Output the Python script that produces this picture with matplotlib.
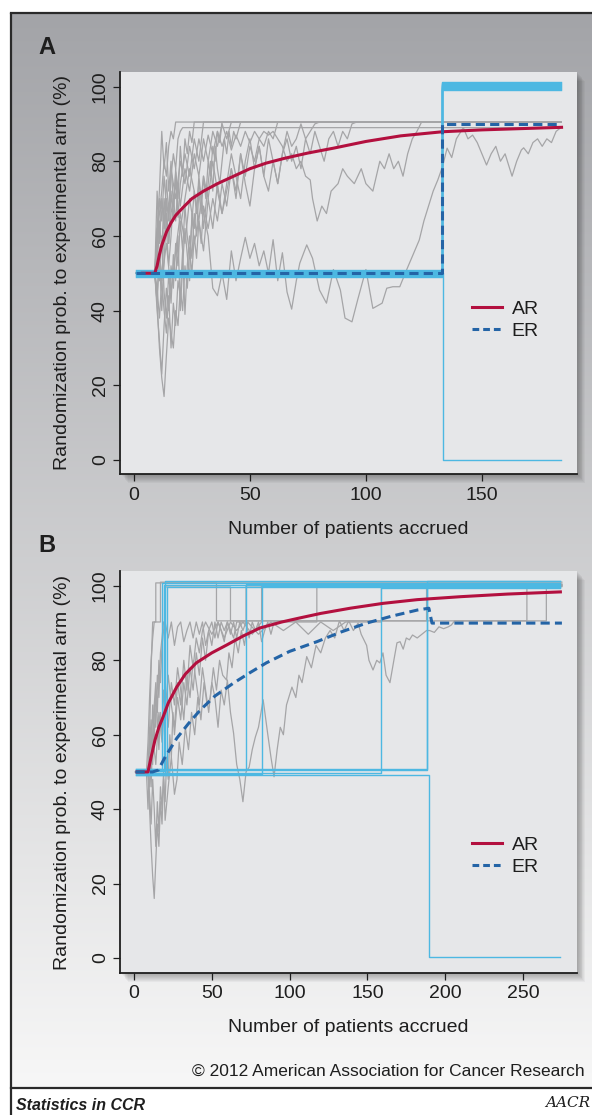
import numpy as np
import matplotlib
matplotlib.use('Agg')
import matplotlib.pyplot as plt
from matplotlib.patches import Rectangle
from matplotlib.lines import Line2D

plt.rcParams['font.family'] = ['Liberation Sans', 'DejaVu Sans']

# ---------------- data ----------------
X_TICKS_A = [0, 50, 100, 150]
X_TICKS_B = [0, 50, 100, 150, 200, 250]
Y_TICKS = [0, 20, 40, 60, 80, 100]
LEGEND_LABELS = ['AR', 'ER']

# Panel A: mean curves
A_AR_X = [3, 9, 10, 11, 12, 14, 16, 18, 21, 25, 30, 36, 43, 50, 57, 65, 75, 86, 100, 115, 133, 150, 170, 185]
A_AR_Y = [50, 50, 52, 55, 57.5, 61, 63.5, 65.5, 67.5, 70, 72, 74, 76, 78, 79.5, 80.8, 82.2, 83.5, 85.3, 86.8, 87.9, 88.4, 88.8, 89.1]
A_ER_X = [1, 133, 133, 184]
A_ER_Y = [50, 50, 90, 90]

# Panel A: ER single trials (equal randomization until 133, then winner)
A_ER_START = 1
A_ER_END = 184
A_ER_JUMP = [133, 133, 133, 133, 133, 133, 133, 133, 133, 133.3]
A_ER_LOW = [50.9, 50.6, 50.3, 50.0, 49.7, 49.4, 49.1, 50.45, 49.55, 50.15]
A_ER_HIGH = [101.1, 100.6, 100.2, 99.8, 99.3, 100.9, 100.4, 99.6, 99.1, 0]

# Panel A: AR single trials
A_G1 = [(1,50),(9,50),(10,58),(11,66),(12,72),(13,80),(14,76),(15,84),(16,88),(17,86),(18,90.5),(184,90.5)]
A_G2 = [(1,50),(9,50),(10,44),(11,56),(12,48),(13,62),(14,70),(15,64),(16,76),(17,82),(18,78),(19,86),(20,88),(21,89),(184,89)]
A_G3 = [(1,50),(9,50),(10,42),(11,55),(12,40),(13,53),(14,66),(15,58),(16,72),(17,64),(18,78),(19,70),(20,84),(21,76),(22,86),(23,82),(24,88),(25,85),(26,90.5),(184,90.5)]
A_G4 = [(1,50),(9,50),(10,62),(11,72),(12,88),(13,78),(14,85),(15,72),(16,80),(17,68),(18,77),(19,65),(20,74),(22,82),(24,76),(26,86),(28,80),(30,90.5),(184,90.5)]
A_G5 = [(1,50),(9,50),(10,40),(11,32),(12,23),(13,36),(14,46),(15,40),(16,52),(17,46),(18,58),(19,52),(20,64),(21,56),(22,68),(23,60),(24,55),(25,64),(26,72),(27,66),(28,76),(29,70),(30,62),(31,68),(32,74),(33,80),(34,72),(35,84),(36,78),(37,74),(38,80),(39,86),(40,82),(41,88),(42,84),(43,88),(44,86),(46,90.5),(184,90.5)]
A_G6 = [(1,50),(9,50),(10,42),(11,30),(12,22),(13,17),(14,28),(15,38),(16,34),(17,30),(18,40),(19,36),(20,46),(21,40),(22,52),(23,46),(24,56),(25,50),(26,60),(27,54),(28,64),(29,58),(30,68),(32,62),(34,70),(36,64),(38,74),(40,68),(42,78),(44,72),(46,82),(48,76),(50,84),(52,80),(54,86),(56,84),(58,88),(60,86),(62,90.5),(184,90.5)]
A_G7 = [(1,50),(9,50),(10,56),(11,48),(12,60),(13,45),(14,38),(15,50),(16,42),(17,55),(18,48),(19,60),(20,40),(21,52),(22,62),(23,55),(24,48),(25,66),(26,58),(28,64),(30,56),(32,70),(34,62),(36,74),(38,66),(40,72),(42,78),(44,70),(46,82),(48,74),(50,68),(52,78),(54,84),(56,76),(58,86),(60,80),(62,74),(64,82),(66,88),(68,84),(70,86),(72,90),(74,86),(76,88),(78,90),(80,90.5),(184,90.5)]
A_G8 = [(1,50),(9,50),(10,72),(11,58),(12,70),(13,62),(14,75),(15,66),(16,78),(18,70),(20,80),(22,74),(24,84),(26,78),(28,86),(30,80),(32,87),(34,82),(36,88),(38,84),(40,88),(42,83),(44,87),(46,84),(48,88),(50,85),(52,88),(54,86),(56,88),(58,87),(60,88),(62,86),(64,84),(66,80),(68,82),(70,78),(72,80),(74,76),(76,75),(77,70),(79,64),(81,68),(83,66),(85,72),(88,74),(90,78),(92,76),(95,74),(98,78),(100,74),(103,72),(106,80),(108,78),(110,82),(112,78),(114,80),(116,76),(118,82),(120,86),(122,88),(124,90.5),(184,90.5)]
A_G9 = [(1,50),(9,50),(10,62),(12,48),(14,58),(16,45),(18,56),(20,66),(22,58),(24,70),(26,62),(28,74),(30,66),(32,60),(34,46),(36,44),(38,50),(40,43),(42,56),(44,48),(46,54),(48,59.6),(50,54),(52,58),(54,52),(56,56),(58,50),(60,59),(62,48),(64,55.5),(66,45),(68,40.4),(70,48),(71.5,52.7),(74.5,57.6),(77,54),(80,45.5),(83,42),(86,51),(89,45.5),(91,38),(94,37),(96.5,43),(100,51),(103,40.6),(107,42),(109,46),(111.6,46.4),(114.6,46.4),(117.6,51),(120,54.5),(123,58.9),(125,64),(127,68),(129,72),(131,75),(133,78.5),(135,83.5),(137,81),(139,86),(142,89),(144,86),(146,87),(148,85),(150,82),(152,79),(154,82),(156,84),(158,80),(160,82),(162,78),(163,76),(165,80),(167,83),(168,83.6),(170,82),(172,85),(174,86),(176,84),(178,86),(180,85),(182,88),(184,89)]
A_G10 = [(1,50),(9,50),(10,60),(11,70),(12,64),(13,76),(14,68),(15,58),(16,66),(18,74),(20,62),(22,70),(24,78),(26,72),(28,64),(30,76),(32,70),(34,80),(36,72),(38,66),(40,74),(42,82),(44,76),(46,70),(48,80),(50,86),(52,78),(54,84),(56,76),(58,72),(60,80),(62,74),(64,82),(66,86),(68,80),(70,84),(72,78),(74,86),(76,82),(78,88),(80,84),(82,80),(84,86),(86,88),(88,84),(90,88),(92,86),(94,90),(96,90.5),(184,90.5)]
A_G11 = [(1,50),(9,50),(10,46),(11,38),(12,48),(13,40),(14,34),(15,44),(16,30),(17,42),(18,36),(19,48),(20,44),(21,56),(22,39),(23,52),(24,60),(25,54),(26,66),(27,60),(28,72),(29,66),(30,76),(31,70),(32,80),(33,76),(34,84),(35,80),(36,88),(37,85),(38,90.5),(184,90.5)]
A_G12 = [(1,50),(9,50),(10,55),(11,64),(12,56),(13,70),(14,62),(15,52),(16,60),(17,70),(18,64),(19,74),(20,68),(22,78),(24,72),(26,82),(28,76),(30,86),(32,80),(34,88),(36,84),(38,90),(40,86),(42,90.5),(184,90.5)]
A_GRAY = [A_G1, A_G2, A_G3, A_G4, A_G5, A_G6, A_G7, A_G8, A_G9, A_G10, A_G11, A_G12]

# Panel B: mean curves
B_AR_X = [1, 9, 11, 13.5, 16, 18.7, 22, 27.4, 33, 40, 50, 59.5, 70, 81, 95, 106.7, 120, 139, 160, 182, 210, 240, 275]
B_AR_Y = [50, 50, 54, 58.6, 62, 64.8, 68.5, 72.8, 76.3, 79.3, 82, 84.1, 86.5, 88.7, 90.3, 91.4, 92.6, 94, 95.3, 96.3, 97.1, 97.8, 98.4]
B_ER_X = [1, 12, 15.6, 20, 27.4, 35, 42.5, 52, 64, 75, 85, 100, 117.5, 133, 149.5, 165, 182, 189.5, 191.5, 275]
B_ER_Y = [50, 50, 50.5, 54, 59, 63, 66.6, 70.4, 73.9, 76.8, 79.3, 82.4, 85, 87.6, 90, 91.8, 93.5, 94, 90, 90]

# Panel B: ER single trials
B_ER_START = 1
B_ER_END = 274
B_ER_JUMP = [18, 19, 20, 21, 72, 82, 159, 188, 188.5, 189.5]
B_ER_LOW = [50.8, 50.3, 49.7, 49.3, 50.5, 49.5, 49.6, 50.9, 50.4, 49.1]
B_ER_HIGH = [100.8, 100.3, 101.2, 99.6, 100.5, 100, 99.4, 101.3, 99.8, 0.3]

# Panel B: AR single trials
B_G1 = [(1,50),(8,50),(9,58),(10,70),(11,80),(12,86),(13,90.3),(14,90.3),(14,100.8),(53,100.8),(53,90.6),(265,90.6),(265,100.5),(275,100.5)]
B_G2 = [(1,50),(8,50),(9,40),(10,54),(11,46),(12,60),(13,68),(14,62),(15,76),(16,70),(17,82),(18,86),(19,90.3),(20,90.3),(20,99.7),(62,99.7),(62,90.6),(188,90.6),(188,100.2),(275,100.2)]
B_G3 = [(1,50),(9,50),(10,56),(11,64),(12,52),(13,68),(14,74),(15,66),(16,80),(17,74),(18,84),(19,88),(20,90.3),(22,86),(24,90.3),(26,84),(28,89),(30,90.3),(32,85),(34,88),(36,90.3),(38,86),(40,90.3),(42,87),(44,90.3),(46,84),(48,88),(50,90.3),(52,86),(54,90.3),(56,88),(58,85),(60,90.3),(62,87),(64,90.3),(66,86),(68,90.3),(70,88),(72,90.3),(74,86),(76,90.3),(78,88),(80,90.3),(82,85),(84,88),(86,90.3),(88,87),(90,90.3),(117.5,90.3),(117.5,100.2),(275,100.2)]
B_G4 = [(1,50),(9,50),(10,40),(11,30),(12,22),(13,16),(14,26),(15,36),(16,30),(17,42),(18,36),(19,48),(20,42),(21,54),(22,48),(23,60),(24,54),(25,66),(26,60),(28,70),(30,64),(32,74),(34,68),(36,78),(38,72),(40,82),(42,76),(44,86),(46,80),(48,88),(50,84),(52,90.3),(54,86),(56,90.3),(58,88),(60,90.3),(64,86),(66,90.3),(72,90.3),(72,100),(275,100)]
B_G5 = [(1,50),(9,50),(10,62),(11,54),(12,68),(13,58),(14,72),(15,64),(16,56),(17,66),(18,60),(19,72),(20,66),(22,76),(24,68),(26,62),(28,74),(30,68),(32,80),(34,72),(36,84),(38,78),(40,86),(42,82),(44,88),(46,90.3),(50,87),(54,90.3),(58,86),(62,90.3),(66,88),(70,90.3),(76,87),(82,90.3),(82,100),(275,100)]
B_G6 = [(1,50),(9,50),(10,46),(12,60),(14,52),(16,66),(18,58),(20,70),(22,62),(24,74),(26,68),(28,78),(30,72),(32,64),(34,76),(36,70),(38,80),(40,74),(42,68),(44,78),(46,72),(48,66),(50,74),(52,70),(54,62),(56,72),(58,68),(60,74.7),(62,66),(64,60.4),(66,52),(68,48),(70,42),(72,50),(74,51.3),(76,56),(78,59.4),(80,62),(83,69.4),(86,60),(88,54),(90,48.7),(92,56),(94,62),(96,60),(98,68),(101.5,72.8),(104,70),(106,76),(108,74),(111,81),(114,78),(117,84),(120,82),(123,86),(126,88),(129,86),(132,90.6),(135,88),(138,90.6),(141,88),(144,90),(146,87),(149.5,84),(151,80),(153.6,77.4),(156,80),(158,79.3),(160,82),(162,76),(164.5,74),(167,80),(169,84.7),(171,85),(173,83),(175,86),(177,85.5),(179,86.8),(182,86),(185,87),(188,88),(190,88),(193,87.5),(196,89),(199,88.5),(202,89),(204,89.5),(206,90.6),(252.5,90.6),(252.5,100.4),(275,100.4)]
B_G7 = [(1,50),(9,50),(10,60),(11,78),(12,90.3),(17,90.3),(17,101),(275,101)]
B_G8 = [(1,50),(9,50),(10,44),(11,36),(12,48),(13,40),(14,30),(15,42),(16,34),(17,46),(18,40),(19,50),(20,37),(22,46),(24,54),(26,44),(27.6,48),(29,58),(31,52),(33,62),(35,56),(37,66),(39,60),(41,70),(43,64),(45,74),(47,68),(49,70),(51,78),(53,72),(55,80),(57,76),(59.5,74.7),(61,82),(63,78),(65,86),(67,82),(69,88),(71,84),(73,90.3),(80,87),(88,90.3),(96,88),(104,90.3),(112,87),(120,90.3),(128,88),(136,90.3),(159,90.3),(159,99.8),(275,99.8)]
B_GRAY = [B_G1, B_G2, B_G3, B_G4, B_G5, B_G6, B_G7, B_G8]

# ---------------- style ----------------
RED = '#b3103f'
BLUE = '#2464a6'
CYAN = '#4db8e2'
GRAY = '#a5a5a7'
INK = '#1e1e1e'

W, H = 592, 1115
fig = plt.figure(figsize=(W / 100, H / 100), dpi=100, facecolor='white')

bg = fig.add_axes([0, 0, 1, 1])
grad = np.linspace(0, 1, 256)[:, None, None]
top = np.array([163, 164, 168]) / 255
bot = np.array([247, 247, 247]) / 255
img = top + (bot - top) * grad
img = np.repeat(img, 2, axis=1)
bg.imshow(img, extent=[11, W, 1088, 13], aspect='auto', interpolation='bilinear', zorder=0)
bg.set_xlim(0, W)
bg.set_ylim(H, 0)
bg.axis('off')
bg.plot([11, 11], [13, H], color='#2a2a2a', lw=1.6, zorder=2, solid_capstyle='butt')
bg.plot([11, W], [13, 13], color='#2a2a2a', lw=1.6, zorder=2)
bg.plot([11, W], [1088, 1088], color='#2a2a2a', lw=1.6, zorder=2)

PANEL_A = (120, 72, 577, 474)
PANEL_B = (120, 571, 577, 973)

for (x0, y0, x1, y1) in (PANEL_A, PANEL_B):
    for d in range(1, 10):
        bg.add_patch(Rectangle((x0 + d * 0.9, y0 + d * 1.0), x1 - x0, y1 - y0,
                               facecolor='black', alpha=0.035, edgecolor='none', zorder=1))

bg.text(38, 47, 'A', fontsize=17, fontweight='bold', ha='left', va='center', color=INK)
bg.text(38, 545, 'B', fontsize=17, fontweight='bold', ha='left', va='center', color=INK)
bg.text(585, 1071, '\u00a9 2012 American Association for Cancer Research', ha='right', va='center',
        fontsize=12.5, color=INK)
bg.text(16, 1105, 'Statistics in CCR', ha='left', va='center', fontsize=11.5, fontweight='bold',
        style='italic', color=INK)
bg.text(568, 1103, 'AACR', ha='center', va='center', fontsize=11, family='DejaVu Serif',
        style='italic', color=INK)


def make_panel(rect, xlim, ylim, xticks):
    x0, y0, x1, y1 = rect
    ax = fig.add_axes([x0 / W, 1 - y1 / H, (x1 - x0) / W, (y1 - y0) / H])
    ax.set_facecolor('#e6e7e9')
    ax.set_xlim(*xlim)
    ax.set_ylim(*ylim)
    for s in ('top', 'right'):
        ax.spines[s].set_visible(False)
    for s in ('left', 'bottom'):
        ax.spines[s].set_color(INK)
        ax.spines[s].set_linewidth(1.3)
    ax.set_xticks(xticks)
    ax.set_yticks(Y_TICKS)
    ax.tick_params(direction='out', length=5, width=0.9, color=INK, labelsize=14,
                   labelcolor=INK, pad=4)
    ax.tick_params(axis='y', pad=3)
    for lab in ax.get_yticklabels():
        lab.set_rotation(90)
        lab.set_va('center')
        lab.set_ha('right')
    ax.set_xlabel('Number of patients accrued', fontsize=14, color=INK)
    ax.xaxis.set_label_coords(0.5, -55 / (y1 - y0))
    ax.xaxis.label.set_va('center')
    ax.set_ylabel('Randomization prob. to experimental arm (%)', fontsize=14, color=INK)
    ax.yaxis.set_label_coords(-(x0 - 63) / (x1 - x0), 0.5)
    ax.yaxis.label.set_va('center')
    return ax


def draw(ax, grays, er_start, er_end, er_jump, er_low, er_high, ar_x, ar_y, er_x, er_y, leg_pos):
    for tr in grays:
        xs, ys = zip(*tr)
        ax.plot(xs, ys, color=GRAY, lw=0.9, zorder=2)
    for j, lo, hi in zip(er_jump, er_low, er_high):
        ax.plot([er_start, j, j, er_end], [lo, lo, hi, hi], color=CYAN, lw=1.0, zorder=3)
    ax.plot(ar_x, ar_y, color=RED, lw=2.2, zorder=5, solid_capstyle='butt')
    ax.plot(er_x, er_y, color=BLUE, lw=2.2, ls=(0, (3, 1.7)), zorder=6)
    handles = [Line2D([], [], color=RED, lw=2.2),
               Line2D([], [], color=BLUE, lw=2.2, ls=(0, (2.2, 1.3)))]
    ax.legend(handles, LEGEND_LABELS, loc='center left', bbox_to_anchor=leg_pos,
              frameon=False, fontsize=14, handlelength=1.55, handletextpad=0.5,
              labelspacing=0.2, borderpad=0, borderaxespad=0, labelcolor=INK)


axA = make_panel(PANEL_A, (-6.0, 191.0), (-3.75, 103.9), X_TICKS_A)
draw(axA, A_GRAY, A_ER_START, A_ER_END, A_ER_JUMP, A_ER_LOW, A_ER_HIGH,
     A_AR_X, A_AR_Y, A_ER_X, A_ER_Y, ((472 - 120) / 457, 1 - (320 - 72) / 402))

axB = make_panel(PANEL_B, (-9.0, 284.7), (-4.03, 104.0), X_TICKS_B)
draw(axB, B_GRAY, B_ER_START, B_ER_END, B_ER_JUMP, B_ER_LOW, B_ER_HIGH,
     B_AR_X, B_AR_Y, B_ER_X, B_ER_Y, ((472 - 120) / 457, 1 - (856 - 571) / 402))

fig.savefig('out.png', dpi=100, facecolor='white')
